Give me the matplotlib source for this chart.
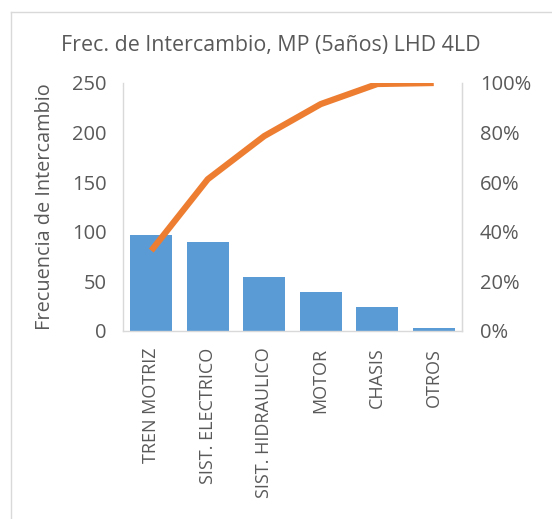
import matplotlib
matplotlib.use("Agg")
import matplotlib.pyplot as plt
from matplotlib.ticker import FuncFormatter
from matplotlib.lines import Line2D

categories = ["TREN MOTRIZ", "SIST. ELECTRICO", "SIST. HIDRAULICO", "MOTOR", "CHASIS", "OTROS"]
frecuencia = [97, 90, 54, 39, 24, 3]
acumulado_pct = [32.4, 61.2, 78.6, 91.5, 99.6, 100.0]
title = "Frec. de Intercambio, MP (5años) LHD 4LD"
ylabel = "Frecuencia de Intercambio"
left_ticks = [0, 50, 100, 150, 200, 250]
right_ticks = [0, 20, 40, 60, 80, 100]

plt.rcParams['font.family'] = ['Open Sans', 'DejaVu Sans']
TXT = "#595959"
GRID = "#D9D9D9"

fig = plt.figure(figsize=(5.52, 5.19), dpi=100)
ax = fig.add_axes([123/552, 1-331/519, (462-123)/552, (331-83)/519])
x = list(range(len(categories)))
ax.bar(x, frecuencia, width=0.74, color="#5B9BD5", zorder=2)
ax.set_xlim(-0.5, len(categories)-0.5)
ax.set_ylim(0, 250)
ax.set_yticks(left_ticks)
ax.set_xticks(x)
ax.set_xticklabels(categories, rotation=90, fontsize=13, color=TXT)
ax.tick_params(axis='y', length=0, pad=12, labelsize=14.5, labelcolor=TXT)
ax.tick_params(axis='x', length=0, pad=12)
ax.set_ylabel(ylabel, fontsize=14.3, color=TXT, labelpad=12)
for s in ['left', 'bottom', 'right']:
    ax.spines[s].set_color(GRID)
    ax.spines[s].set_linewidth(1)
ax.spines['top'].set_visible(False)

ax2 = ax.twinx()
ax2.plot(x, acumulado_pct, color="#ED7D31", linewidth=4.5, solid_capstyle='butt', solid_joinstyle='round', zorder=3)
ax2.set_ylim(0, 100)
ax2.set_yticks(right_ticks)
ax2.yaxis.set_major_formatter(FuncFormatter(lambda v, p: f"{int(v)}%"))
ax2.tick_params(axis='y', length=0, pad=13, labelsize=14.5, labelcolor=TXT)
for s in ['left', 'bottom', 'top']:
    ax2.spines[s].set_visible(False)
ax2.spines['right'].set_color(GRID)

fig.text(271/552, 1-45/519, title, ha='center', va='center', fontsize=15.4, color=TXT)

# chart area border
fig.add_artist(Line2D([11/552, 11/552], [0, 1-12/519], transform=fig.transFigure, color=GRID, lw=1))
fig.add_artist(Line2D([11/552, 1], [1-12/519, 1-12/519], transform=fig.transFigure, color=GRID, lw=1))

fig.savefig("out.png", dpi=100)
